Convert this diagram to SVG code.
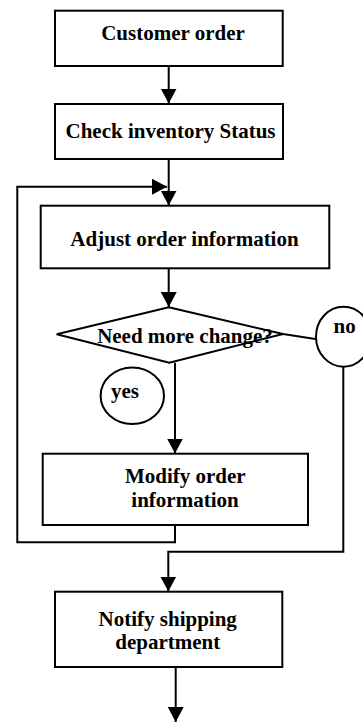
<svg xmlns="http://www.w3.org/2000/svg" width="363" height="722" viewBox="0 0 363 722">
  <style>
    .box { fill: #ffffff; stroke: #000000; stroke-width: 2; }
    .lbl { font-family: "Liberation Serif", "Times New Roman", serif; font-size: 21px; font-weight: bold; fill: #000000; text-anchor: middle; }
    .wire { fill: none; stroke: #000000; stroke-width: 2; }
  </style>
  <defs>
    <marker id="arrow" markerUnits="userSpaceOnUse" markerWidth="16" markerHeight="16" refX="15" refY="8" orient="auto">
      <path d="M0,0 L15,8 L0,16 z" fill="#000000"/>
    </marker>
  </defs>

  <rect width="363" height="722" fill="#ffffff"/>

  <g id="connectors">
    <line class="wire" x1="168.7" y1="66" x2="168.7" y2="103.5" marker-end="url(#arrow)"/>
    <line class="wire" x1="168.7" y1="159" x2="168.7" y2="205.5" marker-end="url(#arrow)"/>
    <path class="wire" d="M175,525 V542.3 H17.3 V186.7 H167" marker-end="url(#arrow)"/>
    <line class="wire" x1="168.7" y1="268.3" x2="168.7" y2="307" marker-end="url(#arrow)"/>
    <line class="wire" x1="283" y1="334" x2="317" y2="339.3"/>
    <line class="wire" x1="175" y1="362.7" x2="175" y2="453.5" marker-end="url(#arrow)"/>
    <path class="wire" d="M343.3,366.5 V551.7 H168.3 V591.5" marker-end="url(#arrow)"/>
    <line class="wire" x1="175.7" y1="667" x2="175.7" y2="722" marker-end="url(#arrow)"/>
  </g>

  <g id="customer-order">
    <rect class="box" x="55" y="10.7" width="227.7" height="55.3"/>
    <text class="lbl" x="173" y="40">Customer order</text>
  </g>

  <g id="check-inventory">
    <rect class="box" x="55" y="104" width="228" height="55"/>
    <text class="lbl" x="170.5" y="138">Check inventory Status</text>
  </g>

  <g id="adjust-order">
    <rect class="box" x="40.7" y="205.7" width="288.6" height="62.6"/>
    <text class="lbl" x="184.5" y="246">Adjust order information</text>
  </g>

  <g id="need-change">
    <polygon class="box" points="168.7,307.3 283,334 169.3,362.7 56.7,334.3"/>
    <text class="lbl" x="185" y="343">Need more change?</text>
  </g>

  <g id="no-label">
    <ellipse class="box" cx="343.5" cy="336.7" rx="27.5" ry="30"/>
    <text class="lbl" x="344.7" y="333">no</text>
  </g>

  <g id="yes-label">
    <ellipse class="box" cx="132.3" cy="395.7" rx="31.7" ry="28.3"/>
    <text class="lbl" x="125" y="398">yes</text>
  </g>

  <g id="modify-order">
    <rect class="box" x="42.7" y="453.7" width="265.3" height="71.3"/>
    <text class="lbl" x="185.3" y="482.7">Modify order</text>
    <text class="lbl" x="185" y="506.7">information</text>
  </g>

  <g id="notify-shipping">
    <rect class="box" x="55" y="591.7" width="227.3" height="75.3"/>
    <text class="lbl" x="167.7" y="626">Notify shipping</text>
    <text class="lbl" x="167.8" y="649.3">department</text>
  </g>
</svg>
